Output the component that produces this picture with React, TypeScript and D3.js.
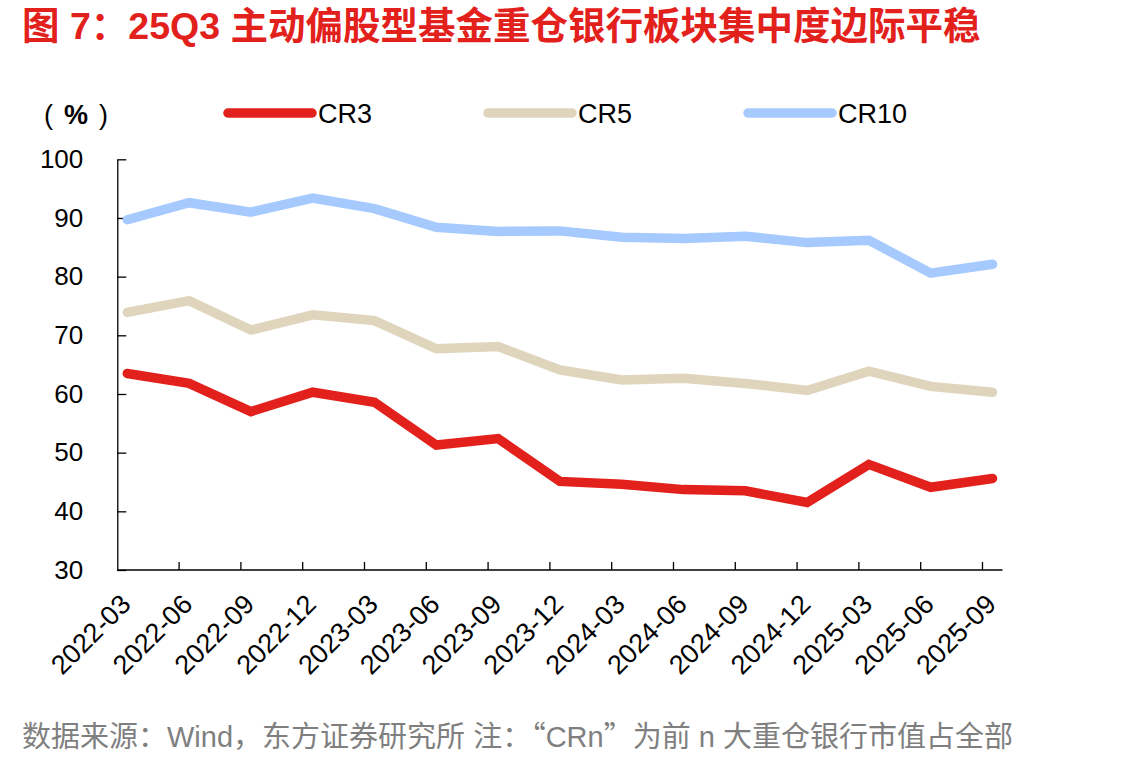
import React, { useRef, useEffect } from "react";
import * as d3 from "d3";

const quarters = [
  "2022-03", "2022-06", "2022-09", "2022-12",
  "2023-03", "2023-06", "2023-09", "2023-12",
  "2024-03", "2024-06", "2024-09", "2024-12",
  "2025-03", "2025-06", "2025-09",
];

const cr3 = [63.5, 61.8, 57.0, 60.3, 58.6, 51.3, 52.4, 45.1, 44.6, 43.7, 43.5, 41.5, 48.0, 44.1, 45.6];
const cr5 = [73.9, 75.9, 70.9, 73.5, 72.5, 67.7, 68.1, 64.1, 62.4, 62.7, 61.8, 60.6, 63.9, 61.3, 60.3];
const cr10 = [89.7, 92.6, 91.0, 93.4, 91.6, 88.4, 87.7, 87.8, 86.7, 86.5, 86.9, 85.8, 86.2, 80.6, 82.1];

const seriesNames = ["CR3", "CR5", "CR10"];
const seriesColors = ["#E3211C", "#DFD5BD", "#A6CAFE"];

const yTicks = [30, 40, 50, 60, 70, 80, 90, 100];

const title = "图 7：25Q3 主动偏股型基金重仓银行板块集中度边际平稳";
// source note, split so the curly quotes come from the CJK font
const noteParts = [
  { text: "数据来源：Wind，东方证券研究所 注：", cjk: false },
  { text: "“", cjk: true },
  { text: "CRn", cjk: false },
  { text: "”", cjk: true },
  { text: "为前 n 大重仓银行市值占全部", cjk: false },
];

const LATIN = "'Liberation Sans', Arial, 'Noto Sans CJK SC', sans-serif";
const CJK = "'Noto Sans CJK SC', sans-serif";

const Chart = () => {
  const ref = useRef<SVGSVGElement>(null);

  useEffect(() => {
    document.body.style.margin = "0";
    const svg = d3.select(ref.current);
    svg.selectAll("*").remove();

    const width = 1142;
    const height = 766;
    svg.attr("width", width).attr("height", height);

    const x = d3.scaleLinear().domain([0, quarters.length - 1]).range([127.3, 992.5]);
    const y = d3.scaleLinear().domain([30, 100]).range([570, 159.3]);
    const step = x(1) - x(0);
    const tickShift = step * 0.162;

    // title
    svg.append("text")
      .attr("x", 22)
      .attr("y", 39)
      .attr("font-family", LATIN)
      .attr("font-size", 37.5)
      .attr("font-weight", "bold")
      .attr("fill", "#E3211C")
      .text(title);

    // unit label
    const unit = svg.append("text")
      .attr("y", 124)
      .attr("font-family", LATIN)
      .attr("font-size", 27)
      .attr("fill", "#000");
    unit.append("tspan").attr("x", 44).text("(");
    unit.append("tspan").attr("x", 64).attr("font-weight", "bold").text("%");
    unit.append("tspan").attr("x", 99).text(")");

    // legend
    const legend = svg.append("g");
    seriesNames.forEach((name, i) => {
      const lx = 228 + i * 260;
      legend.append("line")
        .attr("x1", lx)
        .attr("x2", lx + 84)
        .attr("y1", 113)
        .attr("y2", 113)
        .attr("stroke", seriesColors[i])
        .attr("stroke-width", 9.5)
        .attr("stroke-linecap", "round");
      legend.append("text")
        .attr("x", lx + 90)
        .attr("y", 123)
        .attr("font-family", LATIN)
        .attr("font-size", 27)
        .attr("fill", "#000")
        .text(name);
    });

    // y axis
    const yAxis = svg.append("g")
      .attr("transform", `translate(${x(0) - tickShift},0)`)
      .call(
        d3.axisLeft(y)
          .tickValues(yTicks)
          .tickSizeInner(-9)
          .tickSizeOuter(0)
          .tickPadding(34)
      );
    yAxis.select(".domain").attr("stroke", "#000").attr("stroke-width", 1.3);
    yAxis.selectAll(".tick line").attr("stroke", "#000").attr("stroke-width", 1.3);
    yAxis.selectAll(".tick text")
      .attr("font-family", LATIN)
      .attr("font-size", 26)
      .attr("fill", "#000");

    // x axis
    const xAxis = svg.append("g");
    xAxis.append("line")
      .attr("x1", x(0) - tickShift)
      .attr("x2", x(quarters.length - 1) + tickShift)
      .attr("y1", y(30))
      .attr("y2", y(30))
      .attr("stroke", "#000")
      .attr("stroke-width", 1.3);
    xAxis.selectAll(".xtick")
      .data(quarters.slice(1))
      .enter()
      .append("line")
      .attr("x1", (_d, i) => x(i + 1) - tickShift)
      .attr("x2", (_d, i) => x(i + 1) - tickShift)
      .attr("y1", y(30))
      .attr("y2", y(30) - 8)
      .attr("stroke", "#000")
      .attr("stroke-width", 1.3);
    xAxis.selectAll(".xlabel")
      .data(quarters)
      .enter()
      .append("text")
      .attr("transform", (_d, i) => `translate(${x(i) + 5},${y(30) + 36}) rotate(-45)`)
      .attr("text-anchor", "end")
      .attr("font-family", LATIN)
      .attr("font-size", 27)
      .attr("fill", "#000")
      .text((d) => d);

    // series lines
    const line = d3.line<number>()
      .x((_d, i) => x(i))
      .y((d) => y(d));

    [cr10, cr5, cr3].forEach((values, k) => {
      const idx = 2 - k;
      svg.append("path")
        .datum(values)
        .attr("d", line)
        .attr("fill", "none")
        .attr("stroke", seriesColors[idx])
        .attr("stroke-width", 9.5)
        .attr("stroke-linecap", "round")
        .attr("stroke-linejoin", "miter");
    });

    // source note
    const noteText = svg.append("text")
      .attr("x", 22)
      .attr("y", 747)
      .attr("font-size", 29)
      .attr("fill", "#7F7F7F");
    noteParts.forEach((p) => {
      noteText.append("tspan")
        .attr("font-family", p.cjk ? CJK : LATIN)
        .text(p.text);
    });
  }, []);

  return <svg ref={ref} style={{ display: "block", background: "#fff" }}></svg>;
};

export default function App() {
  return <Chart />;
}
